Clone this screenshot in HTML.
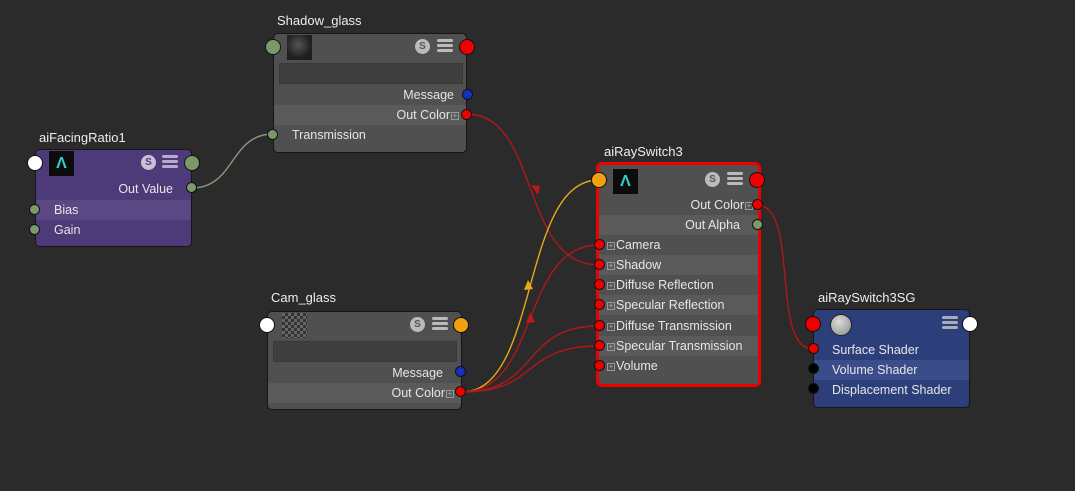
<!DOCTYPE html>
<html><head><meta charset="utf-8"><style>
body{margin:0;width:1075px;height:491px;background:#2b2b2b;font-family:"Liberation Sans",sans-serif;font-size:12.5px;color:#e6e6e6;position:relative;overflow:hidden}
.t{position:absolute;font-size:13px;color:#eee}
.n{position:absolute;border:1px solid #161616;border-radius:5px;background:#505050;box-sizing:border-box}
.row{position:absolute;left:0;right:0;height:20px;line-height:20px}
.r{text-align:right;padding-right:12px}
.l{padding-left:18px}
.p{position:absolute;border-radius:50%;border:1px solid #111;box-sizing:border-box}
.s{position:absolute;width:15px;height:15px;border-radius:50%;background:#bbb;color:#555;font-size:10px;font-weight:bold;text-align:center;line-height:15px}
.st{position:absolute;width:16px;height:14px}
.st i{display:block;height:3px;margin-bottom:2px;background:#bbb;border-radius:2px}
.pl{display:inline-block;width:8px;height:8px;border:1px solid #999;box-sizing:border-box;font-size:8px;line-height:6px;text-align:center;color:#aaa;vertical-align:middle;margin:0 1px}
svg{position:absolute;left:0;top:0}
</style></head><body>
<svg width="1075" height="491" fill="none" stroke-width="1.4">
<path d="M192 188 C235 188 230 134 273 134" stroke="#8a9a78"/>
<path d="M467 114 C540 114 520 265 599 265" stroke="#b01818"/>
<path d="M462 392 C540 392 520 180 599 180" stroke="#e8a818"/>
<path d="M462 392 C540 392 520 245 599 245" stroke="#b01818"/>
<path d="M462 392 C540 392 520 326 599 326" stroke="#b01818"/>
<path d="M462 392 C540 392 520 346 599 346" stroke="#b01818"/>
<path d="M757 205 C800 205 770 349 813 349" stroke="#b01818"/>
<polygon points="531,185 540,186 538,195" fill="#c01818"/>
<polygon points="524,290 528,280 533,289" fill="#e8a818"/>
<polygon points="526,323 530,313 535,322" fill="#c01818"/>
</svg>

<div class="t" style="left:277px;top:13px">Shadow_glass</div>
<div class="n" style="left:273px;top:33px;width:194px;height:120px">
 <div style="position:absolute;left:13px;top:1px;width:25px;height:25px;background:radial-gradient(circle at 45% 40%,#555,#222 60%,#1a1a1a)"></div>
 <div class="s" style="left:141px;top:5px">S</div>
 <div class="st" style="left:163px;top:5px"><i></i><i></i><i></i></div>
 <div style="position:absolute;left:5px;top:29px;width:182px;height:19px;background:#3f3f3f;border:1px solid #383838"></div>
 <div class="row r" style="top:51px">Message</div>
 <div class="row r" style="top:71px;background:#5a5a5a;padding-right:6px">Out Color<span class="pl">+</span></div>
 <div class="row l" style="top:91px">Transmission</div>
</div>
<div class="p" style="left:265px;top:39px;width:16px;height:16px;background:#7b9a6a"></div>
<div class="p" style="left:459px;top:39px;width:16px;height:16px;background:#e00"></div>
<div class="p" style="left:462px;top:89px;width:11px;height:11px;background:#1530c0"></div>
<div class="p" style="left:461px;top:109px;width:11px;height:11px;background:#e00"></div>
<div class="p" style="left:267px;top:129px;width:11px;height:11px;background:#7b9a6a"></div>

<div class="t" style="left:39px;top:130px">aiFacingRatio1</div>
<div class="n" style="left:35px;top:149px;width:157px;height:98px;background:#4d3a78">
 <div style="position:absolute;left:13px;top:1px;width:25px;height:25px;background:#0c0c0c;color:#3cc;font-weight:bold;font-size:16px;text-align:center;line-height:25px">Λ</div>
 <div class="s" style="left:105px;top:5px;background:#c9c0d8;color:#4d3a78">S</div>
 <div class="st" style="left:126px;top:5px"><i style="background:#b8aacc"></i><i style="background:#b8aacc"></i><i style="background:#b8aacc"></i></div>
 <div class="row r" style="top:29px;padding-right:18px">Out Value</div>
 <div class="row l" style="top:50px;background:#5a4784">Bias</div>
 <div class="row l" style="top:70px">Gain</div>
</div>
<div class="p" style="left:27px;top:155px;width:16px;height:16px;background:#fff"></div>
<div class="p" style="left:184px;top:155px;width:16px;height:16px;background:#7b9a6a"></div>
<div class="p" style="left:186px;top:182px;width:11px;height:11px;background:#7b9a6a"></div>
<div class="p" style="left:29px;top:204px;width:11px;height:11px;background:#7b9a6a"></div>
<div class="p" style="left:29px;top:224px;width:11px;height:11px;background:#7b9a6a"></div>

<div class="t" style="left:271px;top:290px">Cam_glass</div>
<div class="n" style="left:267px;top:311px;width:195px;height:99px">
 <div style="position:absolute;left:14px;top:1px;width:25px;height:25px;background:repeating-conic-gradient(#333 0 25%,#666 0 50%) 0 0/6px 6px"></div>
 <div class="s" style="left:142px;top:5px">S</div>
 <div class="st" style="left:164px;top:5px"><i></i><i></i><i></i></div>
 <div style="position:absolute;left:5px;top:29px;width:182px;height:19px;background:#3f3f3f;border:1px solid #383838"></div>
 <div class="row r" style="top:51px;padding-right:18px">Message</div>
 <div class="row r" style="top:71px;background:#5a5a5a;padding-right:6px">Out Color<span class="pl">+</span></div>
</div>
<div class="p" style="left:259px;top:317px;width:16px;height:16px;background:#fff"></div>
<div class="p" style="left:453px;top:317px;width:16px;height:16px;background:#f0a010"></div>
<div class="p" style="left:455px;top:366px;width:11px;height:11px;background:#1530c0"></div>
<div class="p" style="left:455px;top:386px;width:11px;height:11px;background:#e00"></div>

<div class="t" style="left:604px;top:144px">aiRaySwitch3</div>
<div class="n" style="left:596px;top:162px;width:165px;height:225px;border:3px solid #e00;border-radius:6px">
 <div style="position:absolute;left:14px;top:4px;width:25px;height:25px;background:#0c0c0c;color:#3cc;font-weight:bold;font-size:16px;text-align:center;line-height:25px">Λ</div>
 <div class="s" style="left:106px;top:7px">S</div>
 <div class="st" style="left:128px;top:7px"><i></i><i></i><i></i></div>
 <div class="row r" style="top:30px;padding-right:4px">Out Color<span class="pl">+</span></div>
 <div class="row r" style="top:50px;background:#5a5a5a;padding-right:18px">Out Alpha</div>
 <div class="row" style="top:70px;padding-left:7px"><span class="pl">+</span>Camera</div>
 <div class="row" style="top:90px;padding-left:7px;background:#5a5a5a"><span class="pl">+</span>Shadow</div>
 <div class="row" style="top:110px;padding-left:7px"><span class="pl">+</span>Diffuse Reflection</div>
 <div class="row" style="top:130px;padding-left:7px;background:#5a5a5a"><span class="pl">+</span>Specular Reflection</div>
 <div class="row" style="top:151px;padding-left:7px"><span class="pl">+</span>Diffuse Transmission</div>
 <div class="row" style="top:171px;padding-left:7px;background:#5a5a5a"><span class="pl">+</span>Specular Transmission</div>
 <div class="row" style="top:191px;padding-left:7px"><span class="pl">+</span>Volume</div>
</div>
<div class="p" style="left:591px;top:172px;width:16px;height:16px;background:#f0a010"></div>
<div class="p" style="left:749px;top:172px;width:16px;height:16px;background:#e00"></div>
<div class="p" style="left:752px;top:199px;width:11px;height:11px;background:#e00"></div>
<div class="p" style="left:752px;top:219px;width:11px;height:11px;background:#7b9a6a"></div>
<div class="p" style="left:594px;top:239px;width:11px;height:11px;background:#e00"></div>
<div class="p" style="left:594px;top:259px;width:11px;height:11px;background:#e00"></div>
<div class="p" style="left:594px;top:279px;width:11px;height:11px;background:#e00"></div>
<div class="p" style="left:594px;top:299px;width:11px;height:11px;background:#e00"></div>
<div class="p" style="left:594px;top:320px;width:11px;height:11px;background:#e00"></div>
<div class="p" style="left:594px;top:340px;width:11px;height:11px;background:#e00"></div>
<div class="p" style="left:594px;top:360px;width:11px;height:11px;background:#e00"></div>

<div class="t" style="left:818px;top:290px">aiRaySwitch3SG</div>
<div class="n" style="left:813px;top:309px;width:157px;height:99px;background:#2d3f7a">
 <div style="position:absolute;left:16px;top:4px;width:20px;height:20px;border-radius:50%;background:radial-gradient(circle at 40% 35%,#ddd,#888);border:1px solid #222"></div>
 <div class="st" style="left:128px;top:6px"><i style="background:#aab"></i><i style="background:#aab"></i><i style="background:#aab"></i></div>
 <div class="row l" style="top:30px">Surface Shader</div>
 <div class="row l" style="top:50px;background:#3a4d8a">Volume Shader</div>
 <div class="row l" style="top:70px">Displacement Shader</div>
</div>
<div class="p" style="left:805px;top:316px;width:16px;height:16px;background:#e00"></div>
<div class="p" style="left:962px;top:316px;width:16px;height:16px;background:#fff"></div>
<div class="p" style="left:808px;top:343px;width:11px;height:11px;background:#e00"></div>
<div class="p" style="left:808px;top:363px;width:11px;height:11px;background:#000"></div>
<div class="p" style="left:808px;top:383px;width:11px;height:11px;background:#000"></div>
</body></html>
